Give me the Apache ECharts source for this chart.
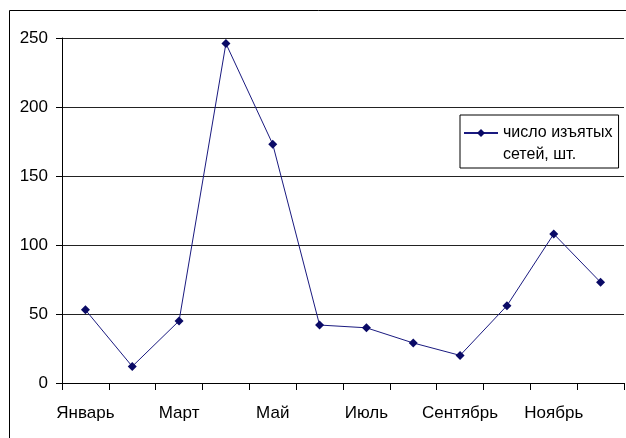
<!DOCTYPE html>
<html><head><meta charset="utf-8">
<script src="https://cdn.jsdelivr.net/npm/echarts@6/dist/echarts.min.js"></script>
<style>html,body{margin:0;padding:0;background:#fff}#c{width:626px;height:438px}</style>
</head><body><div id="c"></div>
<script>
const months = ['Январь','Февраль','Март','Апрель','Май','Июнь','Июль','Август','Сентябрь','Октябрь','Ноябрь','Декабрь'];
const seriesName = 'число изъятых сетей, шт.';
const legendLines = ['число изъятых', 'сетей, шт.'];
const values = [53, 12, 45, 246, 173, 42, 40, 29, 20, 56, 108, 73];
const yTicks = [0, 50, 100, 150, 200, 250];
const FONT = 'Liberation Sans, Arial, sans-serif';

const chart = echarts.init(document.getElementById('c'), null, {renderer:'canvas'});
chart.setOption({
  animation:false,
  backgroundColor:'#fff',
  textStyle:{fontFamily:FONT},
  graphic:[{type:'rect', left:7, top:8, shape:{x:0,y:0,width:640,height:460}, style:{fill:'none', stroke:'#000', lineWidth:1}, silent:true, z:-1}],
  grid:{left:62, top:38, right:2, bottom:55, containLabel:false},
  legend:{
    data:[seriesName], left:460, top:115,
    formatter:()=> '{e|}\n' + legendLines.join('\n'),
    borderColor:'#000', borderWidth:1, padding:[-15,6,2,3], itemWidth:34, itemHeight:10, itemGap:0,
    textStyle:{fontSize:16, color:'#000', lineHeight:22, fontFamily:FONT, rich:{e:{fontSize:16, lineHeight:22}}}
  },
  xAxis:{
    type:'category', data:months, boundaryGap:true,
    axisLine:{lineStyle:{color:'#000', width:1}},
    axisTick:{show:true, alignWithLabel:false, interval:0, length:7, lineStyle:{color:'#000'}},
    axisLabel:{interval:1, color:'#000', fontSize:17, margin:22},
    splitLine:{show:false}
  },
  yAxis:{
    type:'value', min:yTicks[0], max:yTicks[yTicks.length-1], interval:50,
    axisLine:{show:true, lineStyle:{color:'#000'}},
    axisTick:{show:true, length:6, lineStyle:{color:'#000'}},
    axisLabel:{color:'#000', fontSize:17, margin:14},
    splitLine:{show:true, lineStyle:{color:'#222', width:1}}
  },
  series:[{
    name:seriesName, type:'line', data:values,
    symbol:'diamond', symbolSize:9,
    lineStyle:{color:'#1a1a80', width:1},
    itemStyle:{color:'#0a0a66'}
  }]
});
</script></body></html>
